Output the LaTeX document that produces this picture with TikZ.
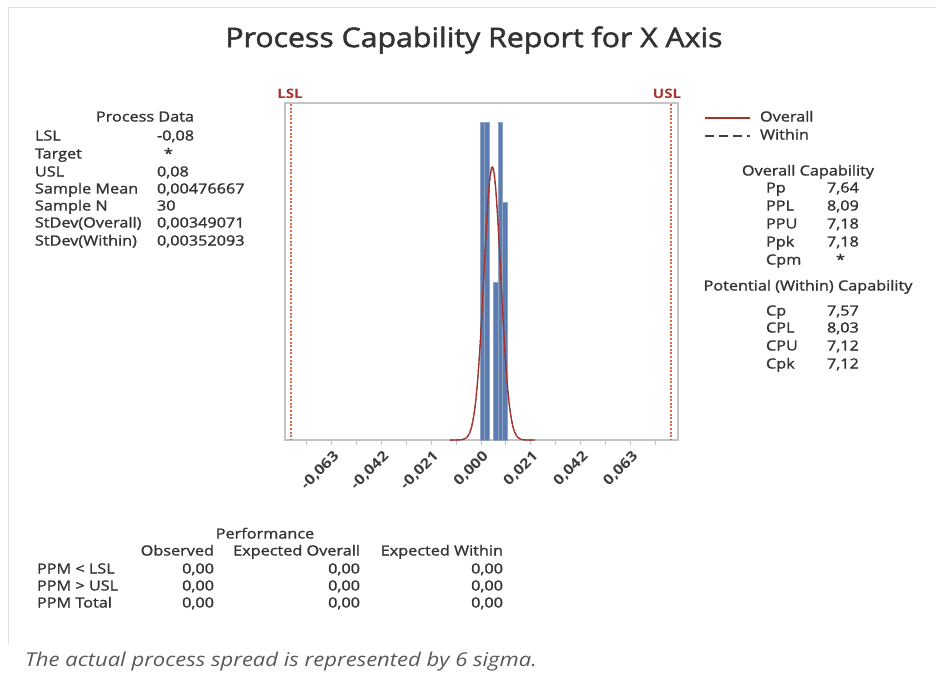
\documentclass[tikz,border=0pt]{standalone}
\usepackage{fontspec}
\setmainfont{Open Sans}
\newfontfamily\rpt[FakeStretch=1.16,FakeBold=1.3]{Open Sans}
\newfontfamily\rptl[FakeStretch=1.16]{Open Sans}
\newfontfamily\rptt[FakeStretch=1.12,FakeBold=1.8]{Open Sans}
\definecolor{txt}{HTML}{333333}
\definecolor{specred}{HTML}{A8322A}
\definecolor{specdash}{HTML}{D9694A}
\definecolor{barfill}{HTML}{5B7DB3}
\definecolor{baredge}{HTML}{8FA3C2}
\definecolor{framegray}{HTML}{C4C4C4}
\begin{document}
\begin{tikzpicture}[x=1pt,y=-1pt,
  every node/.style={inner sep=0pt,outer sep=0pt,text=txt},
  body/.style={font=\rpt\fontsize{14}{16}\selectfont,text height=10pt,text depth=3pt},
  lab/.style={body,anchor=west},
  val/.style={body,anchor=west},
  rval/.style={body,anchor=east},
  head/.style={body,anchor=center},
  ticklab/.style={font=\rptl\bfseries\fontsize{14}{16}\selectfont,text=txt!95,rotate=45,anchor=east},
  speclab/.style={font=\rptl\bfseries\fontsize{13}{15}\selectfont,text=specred,anchor=center},
  specline/.style={specdash,line width=1.3pt,dash pattern=on 2pt off 1.6pt},
  bar/.style={fill=barfill,draw=baredge,line width=0.6pt}
]
\useasboundingbox (0,0) rectangle (936,677);
\fill[white] (0,0) rectangle (936,677);
% faint outer frame
\draw[black!12,line width=1pt] (8,645) -- (8,8) -- (936,8);

% title
\node[font=\rptt\fontsize{27}{32}\selectfont,text=txt] (title) at (474,40) {Process Capability Report for X Axis};

% process data
\node[head] (pdh) at (145,118) {Process Data};
\node[lab] (pd1) at (35,137) {LSL};            \node[val] (pd1v) at (157,137) {-0,08};
\node[lab] (pd2) at (35,155) {Target};         \node[val] (pd2v) at (164,155) {*};
\node[lab] (pd3) at (35,173) {USL};            \node[val] (pd3v) at (157,173) {0,08};
\node[lab] (pd4) at (35,190) {Sample Mean};    \node[val] (pd4v) at (157,190) {0,00476667};
\node[lab] (pd5) at (35,207) {Sample N};       \node[val] (pd5v) at (157,207) {30};
\node[lab] (pd6) at (35,224) {StDev(Overall)}; \node[val] (pd6v) at (157,224) {0,00349071};
\node[lab] (pd7) at (35,242) {StDev(Within)};  \node[val] (pd7v) at (157,242) {0,00352093};

% plot frame
\draw[framegray,line width=1.4pt] (285,103) rectangle (678,440);
% ticks
\foreach \k in {-7,...,7}{
  \draw[framegray,line width=1pt] ({481+24.9*\k},440) -- ({481+24.9*\k},445);
}
\foreach \k/\t in {-6/-0{,}063,-4/-0{,}042,-2/-0{,}021,0/0{,}000,2/0{,}021,4/0{,}042,6/0{,}063}{
  \node[ticklab] at ({481+24.9*\k+5},454) {\t};
}
% spec limits
\draw[specline] (291,104) -- (291,439);
\draw[specline] (671,104) -- (671,439);
\node[speclab] (lsl) at (290,94) {LSL};
\node[speclab] (usl) at (667,94) {USL};

% histogram
\draw[bar] (480,440) rectangle (484.5,122);
\draw[bar] (484.5,440) rectangle (489,122);
\draw[bar] (493.5,440) rectangle (498,282);
\draw[bar] (498,440) rectangle (502.5,122);
\draw[bar] (502.5,440) rectangle (507,202);

% normal curves
\draw[black!70,line width=1pt,dashed,domain=450:535,samples=150,smooth]
  plot (\x,{440-270.7*exp(-((\x-492.3)^2)/(2*72.0))});
\draw[specred,line width=1.3pt,domain=450:535,samples=150,smooth]
  plot (\x,{440-273*exp(-((\x-492.3)^2)/(2*70.5))});

% legend
\coordinate (lg1a) at (705,118); \coordinate (lg1b) at (750,118);
\coordinate (lg2a) at (705,136); \coordinate (lg2b) at (750,136);
\draw[specred,line width=1.5pt] (lg1a) -- (lg1b);
\draw[black!75,line width=1.3pt,dash pattern=on 9pt off 5pt] (lg2a) -- (lg2b);
\node[lab] (lgo) at (760,118) {Overall};
\node[lab] (lgw) at (760,136) {Within};

% overall capability
\node[head] (och) at (808,172) {Overall Capability};
\node[lab] (oc1) at (766,189) {Pp};  \node[val] (oc1v) at (827,189) {7,64};
\node[lab] (oc2) at (766,207) {PPL}; \node[val] (oc2v) at (827,207) {8,09};
\node[lab] (oc3) at (766,225) {PPU}; \node[val] (oc3v) at (827,225) {7,18};
\node[lab] (oc4) at (766,243) {Ppk}; \node[val] (oc4v) at (827,243) {7,18};
\node[lab] (oc5) at (766,261) {Cpm}; \node[val] (oc5v) at (836,261) {*};

% potential capability
\node[head] (pch) at (808,287) {Potential (Within) Capability};
\node[lab] (pc1) at (766,312) {Cp};  \node[val] (pc1v) at (827,312) {7,57};
\node[lab] (pc2) at (766,329) {CPL}; \node[val] (pc2v) at (827,329) {8,03};
\node[lab] (pc3) at (766,347) {CPU}; \node[val] (pc3v) at (827,347) {7,12};
\node[lab] (pc4) at (766,365) {Cpk}; \node[val] (pc4v) at (827,365) {7,12};

% performance
\node[head] (perf) at (265,535) {Performance};
\node[rval] (hobs) at (214,552) {Observed};
\node[rval] (hexo) at (360,552) {Expected Overall};
\node[rval] (hexw) at (503,552) {Expected Within};
\node[lab] (r1) at (37,570) {PPM < LSL};
\node[lab] (r2) at (37,587) {PPM > USL};
\node[lab] (r3) at (37,604) {PPM Total};
\foreach \r/\y in {1/570,2/587,3/604}{
  \node[rval] (r\r a) at (214,\y) {0,00};
  \node[rval] (r\r b) at (360,\y) {0,00};
  \node[rval] (r\r c) at (503,\y) {0,00};
}

% footer
\node[font=\rptl\itshape\fontsize{19}{22}\selectfont,text=black!65,anchor=west] (foot) at (25,662) {The actual process spread is represented by 6 sigma.};
\end{tikzpicture}
\end{document}
